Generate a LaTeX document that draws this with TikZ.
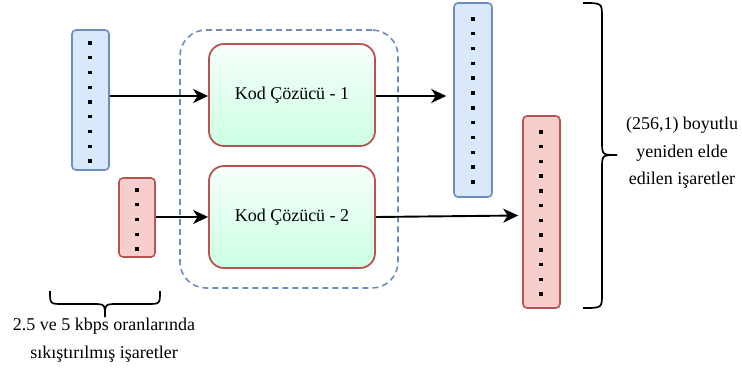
\documentclass[tikz,border=0pt]{standalone}
\usepackage{fontspec}
\setmainfont{Liberation Serif}
\usetikzlibrary{arrows.meta,calc}
\definecolor{bfill}{HTML}{DAE8FC}
\definecolor{bline}{HTML}{6C8EBF}
\definecolor{rfill}{HTML}{F8CECC}
\definecolor{rline}{HTML}{B85450}
\definecolor{gtop}{HTML}{F7FFFB}
\definecolor{gbot}{HTML}{CCFFE3}
\tikzset{
  vecB/.style={draw=bline,fill=bfill,line width=1.6pt,rounded corners=4pt,inner sep=0pt},
  vecR/.style={draw=rline,fill=rfill,line width=1.6pt,rounded corners=4pt,inner sep=0pt},
  dec/.style={draw=rline,line width=1.8pt,rounded corners=15pt,top color=gtop,bottom color=gbot,
    minimum width=166pt,minimum height=102pt,inner sep=0pt},
  grp/.style={draw=bline,line width=1.6pt,dash pattern=on 6pt off 4pt,rounded corners=26pt,
    minimum width=218pt,minimum height=258pt,inner sep=0pt},
  arr/.style={line width=1.9pt,-{Stealth[length=15pt,width=14pt,inset=4.5pt]}},
  br/.style={line width=1.7pt},
  lbl/.style={align=center,font=\fontsize{18}{27.5}\selectfont}
}
\begin{document}
\begin{tikzpicture}[x=1pt,y=-1pt]
\useasboundingbox (0,0) rectangle (742,369);
% group
\node[grp] (grp) at (289,159) {};
% input vectors
\node[vecB,minimum width=37pt,minimum height=140pt] (inB) at (90.5,100) {};
\node[vecR,minimum width=36pt,minimum height=79pt] (inR) at (137,217.5) {};
% output vectors
\node[vecB,minimum width=38pt,minimum height=194pt] (outB) at (473,100) {};
\node[vecR,minimum width=37pt,minimum height=192pt] (outR) at (541.5,212) {};
% decoders
\node[dec,font=\fontsize{18}{22}\selectfont] (d1) at (292,95) {Kod Çözücü - 1};
\node[dec,font=\fontsize{18}{22}\selectfont] (d2) at (292,217) {Kod Çözücü - 2};
% dots
\foreach \i in {0,...,8} \fill ($(90,43)+(0,\i*14.75)$) ++(-1.7,-1.7) rectangle ++(3.4,3.4);
\foreach \i in {0,...,4} \fill ($(137,190)+(0,\i*14.75)$) ++(-1.7,-1.7) rectangle ++(3.4,3.4);
\foreach \i in {0,...,11} \fill ($(473,19)+(0,\i*14.8)$) ++(-1.7,-1.7) rectangle ++(3.4,3.4);
\foreach \i in {0,...,11} \fill ($(541,132)+(0,\i*14.73)$) ++(-1.7,-1.7) rectangle ++(3.4,3.4);
% arrows
\draw[arr] (inB.east |- 0,96) -- (d1.west |- 0,96);
\draw[arr] (inR.east |- d2.west) -- (d2.west);
\coordinate (t1) at ([xshift=-7pt]outB.west |- 0,96);
\draw[arr] (d1.east |- 0,96) -- (t1);
\coordinate (t2) at ([xshift=-4pt]outR.west |- 0,215.5);
\draw[arr] (d2.east) -- (t2);
% bottom brace
\draw[br] (50,291) .. controls (50,304) and (50,304) .. (63,304) -- (92,304)
  .. controls (105,304) and (105,304) .. (105,317)
  .. controls (105,304) and (105,304) .. (118,304) -- (147,304)
  .. controls (160,304) and (160,304) .. (160,291);
\coordinate (bt) at (105,317);
\node[lbl] (bl) at (104,340) {2.5 ve 5 kbps oranlarında\\sıkıştırılmış işaretler};
% right brace
\draw[br] (583,3) .. controls (602,3) and (602,3) .. (602,17) -- (602,141)
  .. controls (602,155) and (602,155) .. (617,155)
  .. controls (602,155) and (602,155) .. (602,169) -- (602,294)
  .. controls (602,308) and (602,308) .. (583,308);
\coordinate (rt) at (617,155);
\node[lbl] (rl) at (682,153) {(256,1) boyutlu\\yeniden elde\\edilen işaretler};
\end{tikzpicture}
\end{document}
